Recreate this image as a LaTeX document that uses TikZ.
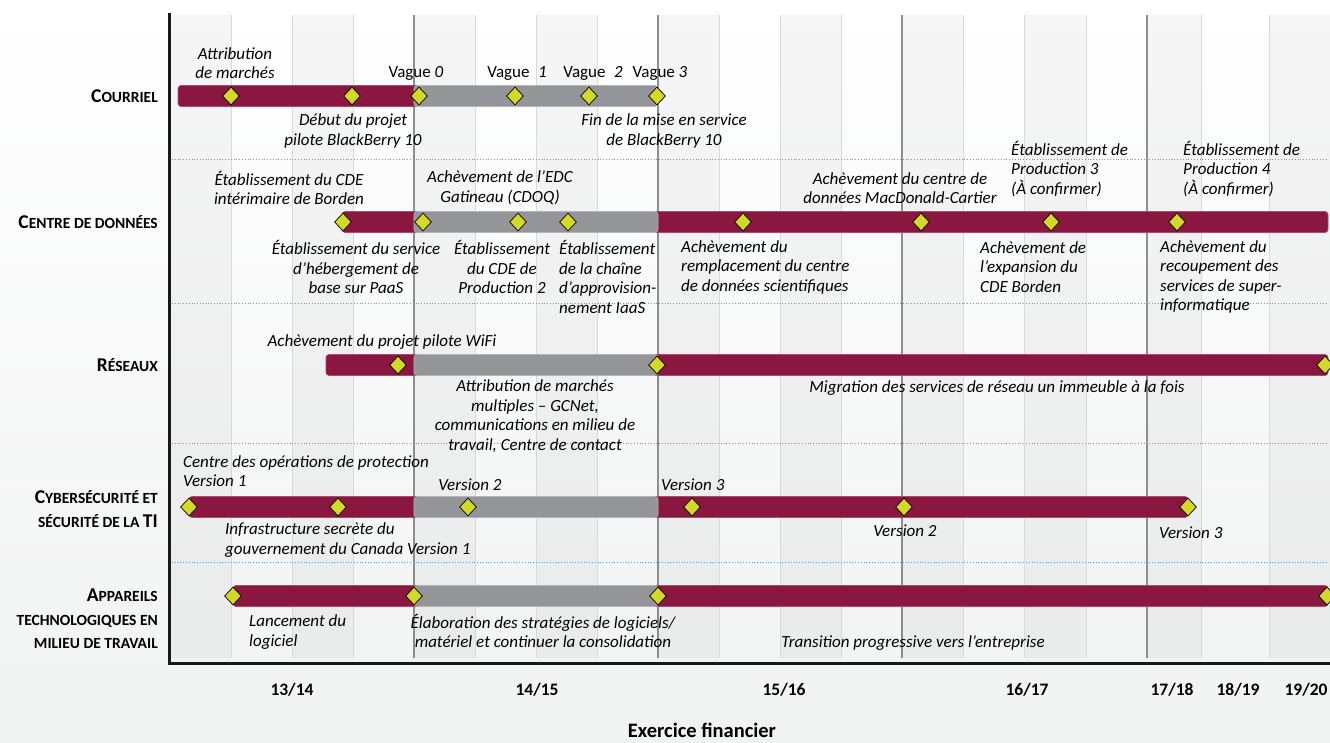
\documentclass[tikz,border=0pt]{standalone}
\usepackage{fontspec}
\setmainfont{Carlito}
\usetikzlibrary{shapes.geometric}

\definecolor{barred}{HTML}{89173F}
\definecolor{baredge}{HTML}{A84C6C}
\definecolor{phasegray}{HTML}{939598}
\definecolor{phaseedge}{HTML}{B4B5B8}
\definecolor{msfill}{HTML}{D4D82A}
\definecolor{sepblue}{HTML}{5B9BD5}
\definecolor{bgbottom}{HTML}{F1F2F2}
\definecolor{qgray}{HTML}{D9D9D9}
\definecolor{ygray}{HTML}{8E8E8E}

% large initial for the small-caps row titles
\newcommand{\capl}[1]{{\fontsize{19.5}{23}\selectfont #1}}

\begin{document}
\begin{tikzpicture}[
  x=1pt, y=-1pt,
  lbl/.style={inner sep=0pt, align=center, font=\fontsize{17}{19.5}\selectfont\itshape},
  lbll/.style={lbl, align=left, anchor=west},
  vague/.style={lbl, font=\fontsize{17}{19.5}\selectfont},
  rowlbl/.style={inner sep=0pt, anchor=east, align=right, font=\fontsize{15.5}{23.5}\selectfont\bfseries},
  yearlbl/.style={inner sep=0pt, font=\fontsize{17.5}{20}\selectfont\bfseries},
  stripe/.style={fill=black, fill opacity=0.035},
  qline/.style={qgray, line width=0.8pt},
  yline/.style={ygray, line width=1.1pt},
  sep/.style={sepblue, dotted, line width=0.8pt},
  bar/.style={fill=barred, draw=baredge, line width=0.6pt, rounded corners=3pt},
  phase/.style={fill=phasegray, draw=phaseedge, line width=0.6pt, rounded corners=3pt},
  milestone/.style={diamond, draw=black, fill=msfill, line width=0.7pt, minimum width=17pt, minimum height=18pt, inner sep=0pt}
]

% Bar rows (centre lines) and half height
\def\rowa{96}
\def\rowb{222}
\def\rowc{365}
\def\rowd{507}
\def\rowe{596}
\def\bh{10.5}

\useasboundingbox (0,0) rectangle (1330,742);
\fill[top color=white, bottom color=bgbottom] (0,0) rectangle (1330,742);

% Quarter stripes and grid lines
\foreach \xa/\xb in {170/231, 292/353, 414/475, 536/597, 658/719, 780/841, 902/963, 1024/1086, 1147/1201, 1269/1330}{
  \fill[stripe] (\xa,15) rectangle (\xb,658);
}
\foreach \x in {231,292,353,475,536,597,719,780,841,963,1024,1086,1201,1269}{
  \draw[qline] (\x,15) -- (\x,658);
}
\foreach \x in {414,658,902,1147}{
  \draw[yline] (\x,15) -- (\x,658);
}

% Row separators
\foreach \y in {159,303,443,562}{
  \draw[sep] (172,\y) -- (1326,\y);
}

% Axes
\draw[line width=3pt, black!90] (169,13) -- (169,663) -- (1330,663);

% Row titles
\node[rowlbl] (lbl-cour) at (158,\rowa) {\capl{C}OURRIEL};
\node[rowlbl] (lbl-cde) at (158,\rowb) {\capl{C}ENTRE DE DONNÉES};
\node[rowlbl] (lbl-res) at (158,\rowc) {\capl{R}ÉSEAUX};
\node[rowlbl] (lbl-cyb) at (158,509) {\capl{C}YBERSÉCURITÉ ET\\SÉCURITÉ DE LA \capl{TI}};
\node[rowlbl] (lbl-app) at (158,619) {\capl{A}PPAREILS\\TECHNOLOGIQUES EN\\MILIEU DE TRAVAIL};

% Courriel row
\draw[bar] (178,\rowa-\bh) rectangle (420,\rowa+\bh);
\draw[phase] (414,\rowa-\bh) rectangle (658,\rowa+\bh);
\foreach \x [count=\i] in {231,352,419,515,589,657}{
  \node[milestone] (cour-\i) at (\x,\rowa) {};
}
\node[lbl] (attrib) at (235,63) {Attribution\\de marchés};
\node[vague] (vague0) at (416,73) {Vague \textit{0}};
\node[vague] (vague1) at (517,73) {Vague\enspace\textit{1}};
\node[vague] (vague2) at (593,73) {Vague\enspace\textit{2}};
\node[vague] (vague3) at (660,73) {Vague \textit{3}};
\node[lbl] (debut) at (353,131) {Début du projet\\pilote BlackBerry 10};
\node[lbl] (fin) at (664,131) {Fin de la mise en service\\de BlackBerry 10};

% Centre de donnees row
\draw[bar] (342,\rowb-\bh) rectangle (1328,\rowb+\bh);
\draw[phase] (414,\rowb-\bh) rectangle (658,\rowb+\bh);
\foreach \x [count=\i] in {343,423,518,568,743,921,1051,1177}{
  \node[milestone] (cde-\i) at (\x,\rowb) {};
}
\node[lbl] (etab-borden) at (289,188) {Établissement du CDE\\intérimaire de Borden};
\node[lbl] (ach-edc) at (500,188) {Achèvement de l’EDC\\Gatineau (CDOQ)};
\node[lbl] (ach-mac) at (900,188) {Achèvement du centre de\\données MacDonald-Cartier};
\node[lbll] (prod3) at (1011,169) {Établissement de\\Production 3\\(À confirmer)};
\node[lbll] (prod4) at (1183,169) {Établissement de\\Production 4\\(À confirmer)};
\node[lbl] (etab-paas) at (356,267) {Établissement du service\\d’hébergement de\\base sur PaaS};
\node[lbl] (etab-prod2) at (502,267) {Établissement\\du CDE de\\Production 2};
\node[lbll] (etab-iaas) at (559,277) {Établissement\\de la chaîne\\d’approvision-\\nement IaaS};
\node[lbll] (ach-sci) at (681,267) {Achèvement du\\remplacement du centre\\de données scientifiques};
\node[lbll] (ach-exp) at (980,267) {Achèvement de\\l’expansion du\\CDE Borden};
\node[lbll] (ach-super) at (1160,277) {Achèvement du\\recoupement des\\services de super-\\informatique};

% Reseaux row
\draw[bar] (326,\rowc-\bh) rectangle (1328,\rowc+\bh);
\draw[phase] (414,\rowc-\bh) rectangle (658,\rowc+\bh);
\foreach \x [count=\i] in {398,657,1325}{
  \node[milestone] (res-\i) at (\x,\rowc) {};
}
\node[lbl] (wifi) at (382,342) {Achèvement du projet pilote WiFi};
\node[lbl] (gcnet) at (535,416) {Attribution de marchés\\multiples – GCNet,\\communications en milieu de\\travail, Centre de contact};
\node[lbl] (migr) at (997,388) {Migration des services de réseau un immeuble à la fois};

% Cybersecurite row
\draw[bar] (189,\rowd-\bh) rectangle (1188,\rowd+\bh);
\draw[phase] (414,\rowd-\bh) rectangle (658,\rowd+\bh);
\foreach \x [count=\i] in {189,338,468,692,904,1188}{
  \node[milestone] (cyb-\i) at (\x,\rowd) {};
}
\node[lbll] (cop) at (183,471) {Centre des opérations de protection\\Version 1};
\node[lbl] (cyb-v2a) at (470,485) {Version 2};
\node[lbll] (cyb-v3a) at (661,485) {Version 3};
\node[lbll] (infra) at (225,540) {Infrastructure secrète du\\gouvernement du Canada Version 1};
\node[lbl] (cyb-v2b) at (905,531) {Version 2};
\node[lbll] (cyb-v3b) at (1159,533) {Version 3};

% Appareils row
\draw[bar] (233,\rowe-\bh) rectangle (1328,\rowe+\bh);
\draw[phase] (414,\rowe-\bh) rectangle (658,\rowe+\bh);
\foreach \x [count=\i] in {233,414,658,1327}{
  \node[milestone] (app-\i) at (\x,\rowe) {};
}
\node[lbll] (lanc) at (249,632) {Lancement du\\logiciel};
\node[lbl] (elab) at (543,631) {Élaboration des stratégies de logiciels/\\matériel et continuer la consolidation};
\node[lbl] (trans) at (913,643) {Transition progressive vers l’entreprise};

% Fiscal years
\node[yearlbl] (fy1314) at (292,690) {13/14};
\node[yearlbl] (fy1415) at (537,690) {14/15};
\node[yearlbl] (fy1516) at (784,690) {15/16};
\node[yearlbl] (fy1617) at (1027,690) {16/17};
\node[yearlbl] (fy1718) at (1172,690) {17/18};
\node[yearlbl] (fy1819) at (1238,690) {18/19};
\node[yearlbl] (fy1920) at (1306,690) {19/20};
\node[inner sep=0pt, font=\fontsize{20.5}{24}\selectfont\bfseries] (axtitle) at (702,730) {Exercice financier};

\end{tikzpicture}
\end{document}
